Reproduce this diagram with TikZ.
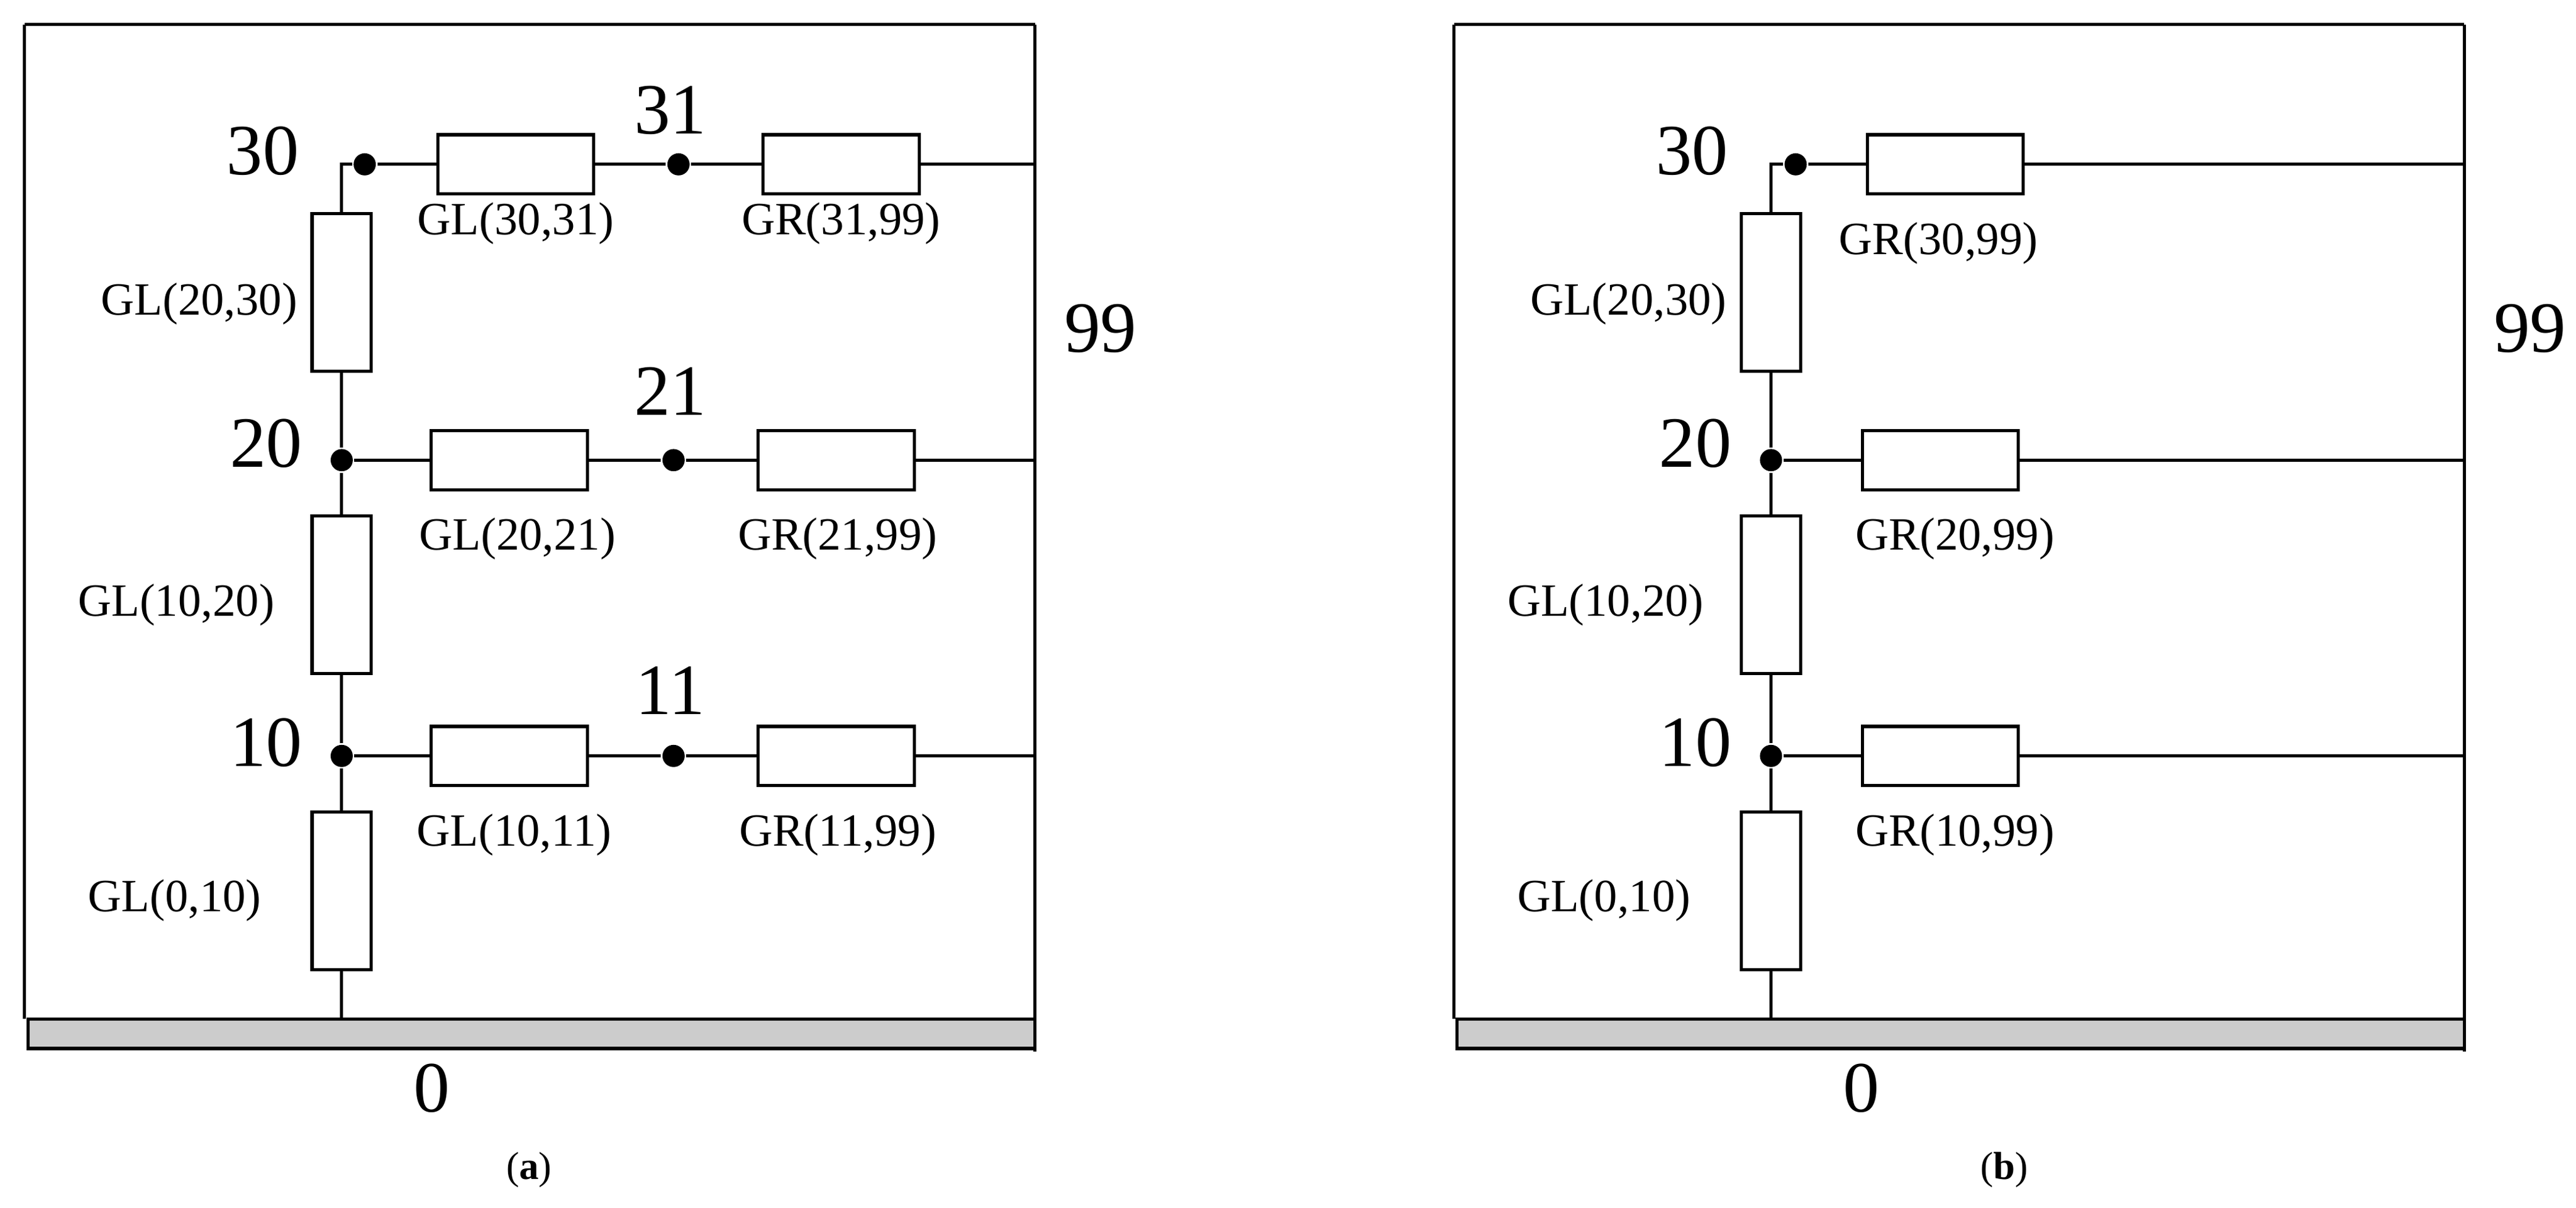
\documentclass[tikz,border=0pt]{standalone}
\usepackage{fontspec}
\setmainfont{Liberation Serif}
\begin{document}
\begin{tikzpicture}[x=0.02cm,y=-0.02cm,line width=1.1pt,
 res/.style={draw,fill=white,minimum width=1.9cm,minimum height=0.72cm,inner sep=0pt},
 vres/.style={draw,fill=white,minimum width=0.72cm,minimum height=1.92cm,inner sep=0pt},
 dot/.style={circle,fill=black,inner sep=0pt,minimum size=0.27cm},
 big/.style={font=\fontsize{25}{28}\selectfont},
 lab/.style={font=\fontsize{16}{18}\selectfont},
 vlab/.style={lab,anchor=east,inner sep=0pt},
 captxt/.style={font=\fontsize{13.5}{16}\selectfont}]
\useasboundingbox (0,0) rectangle (1568,735);
% ---------- panel a ----------
\draw (15,15) -- (630,15);
\draw (15,15) -- (15,620);
\draw (630,15) -- (630,640);
\draw[fill=black!20] (17,620) rectangle (630,638);
\coordinate (ga) at (208,620);
\node[vres] (a0) at (208,542) {};
\node[vres] (a1) at (208,362) {};
\node[vres] (a2) at (208,178) {};
\node[dot] (a10) at (208,460) {};
\node[dot] (a20) at (208,280) {};
\node[dot] (a30) at (222,100) {};
\coordinate (ac) at (208,100);
\node[res] (h30) at (314,100) {};
\node[dot] (a31) at (413,100) {};
\node[res] (r31) at (512,100) {};
\coordinate (e3) at (630,100);
\node[res] (h20) at (310,280) {};
\node[dot] (a21) at (410,280) {};
\node[res] (r21) at (509,280) {};
\coordinate (e2) at (630,280);
\node[res] (h10) at (310,460) {};
\node[dot] (a11) at (410,460) {};
\node[res] (r11) at (509,460) {};
\coordinate (e1) at (630,460);
\draw (ga) -- (a0) -- (a10) -- (a1) -- (a20) -- (a2) -- (ac) -- (a30);
\draw (a30) -- (h30) -- (a31) -- (r31) -- (e3);
\draw (a20) -- (h20) -- (a21) -- (r21) -- (e2);
\draw (a10) -- (h10) -- (a11) -- (r11) -- (e1);
\node[big] at (160,92) {30};
\node[big] at (162,270) {20};
\node[big] at (162,452) {10};
\node[big] at (408,67) {31};
\node[big] at (408,238) {21};
\node[big] at (408,420) {11};
\node[big] at (670,200) {99};
\node[big] at (263,662) {0};
\node[lab] at (314,136) {GL(30,31)};
\node[lab] at (512,136) {GR(31,99)};
\node[lab] at (315,328) {GL(20,21)};
\node[lab] at (510,328) {GR(21,99)};
\node[lab] at (313,508) {GL(10,11)};
\node[lab] at (510,508) {GR(11,99)};
\node[vlab] at (182,185) {GL(20,30)};
\node[vlab] at (168,368) {GL(10,20)};
\node[vlab] at (160,548) {GL(0,10)};
\node[captxt] at (322,712) {(\textbf{a})};
% ---------- panel b ----------
\draw (885,15) -- (1500,15);
\draw (885,15) -- (885,620);
\draw (1500,15) -- (1500,640);
\draw[fill=black!20] (887,620) rectangle (1500,638);
\coordinate (gb) at (1078,620);
\node[vres] (b0) at (1078,542) {};
\node[vres] (b1) at (1078,362) {};
\node[vres] (b2) at (1078,178) {};
\node[dot] (b10) at (1078,460) {};
\node[dot] (b20) at (1078,280) {};
\node[dot] (b30) at (1093,100) {};
\coordinate (bc) at (1078,100);
\node[res] (s30) at (1184,100) {};
\node[res] (s20) at (1181,280) {};
\node[res] (s10) at (1181,460) {};
\coordinate (f3) at (1500,100);
\coordinate (f2) at (1500,280);
\coordinate (f1) at (1500,460);
\draw (gb) -- (b0) -- (b10) -- (b1) -- (b20) -- (b2) -- (bc) -- (b30);
\draw (b30) -- (s30) -- (f3);
\draw (b20) -- (s20) -- (f2);
\draw (b10) -- (s10) -- (f1);
\node[big] at (1030,92) {30};
\node[big] at (1032,270) {20};
\node[big] at (1032,452) {10};
\node[big] at (1540,200) {99};
\node[big] at (1133,662) {0};
\node[lab] at (1180,148) {GR(30,99)};
\node[lab] at (1190,328) {GR(20,99)};
\node[lab] at (1190,508) {GR(10,99)};
\node[vlab] at (1052,185) {GL(20,30)};
\node[vlab] at (1038,368) {GL(10,20)};
\node[vlab] at (1030,548) {GL(0,10)};
\node[captxt] at (1220,712) {(\textbf{b})};
\end{tikzpicture}
\end{document}
